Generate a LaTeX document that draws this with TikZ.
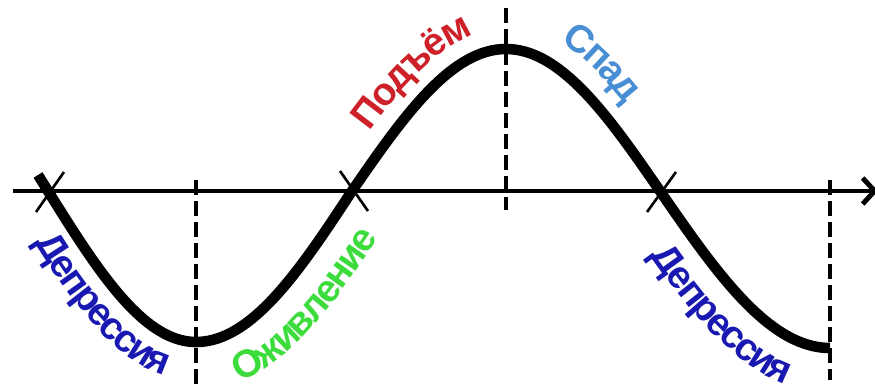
\documentclass[tikz,border=0pt]{standalone}
\usepackage{fontspec}
\setmainfont{Liberation Sans}
\usepackage{xcolor}
\usepackage{tikz}
\usetikzlibrary{arrows.meta,decorations.text}

\definecolor{depblue}{RGB}{25,25,178}
\definecolor{revgreen}{RGB}{60,220,60}
\definecolor{risered}{RGB}{205,32,40}
\definecolor{fallblue}{RGB}{72,142,212}

\begin{document}
\begin{tikzpicture}[
  declare function={
    wv(\x,\m,\q,\h)=1.95+(\h)*cos(90*((\x)-(\m))/(\q));
    ws(\x,\m,\q,\h)=(0-(\h))*pi/(2*(\q))*sin(90*((\x)-(\m))/(\q));
    wn(\x,\m,\q,\h)=sqrt(1+((\h)*pi/(2*(\q))*sin(90*((\x)-(\m))/(\q)))*((\h)*pi/(2*(\q))*sin(90*((\x)-(\m))/(\q))));
  },
  axisline/.style={line width=1.4pt},
  wave/.style={line width=3.0pt},
  guide/.style={line width=0.95pt, dash pattern=on 0.15cm off 0.06cm},
  crossline/.style={line width=0.75pt},
  phase/.style={decorate, decoration={text along path, text align=center, #1}}
]
\useasboundingbox (0,0) rectangle (8.75,3.86);

% axis
\coordinate (o) at (0.13,1.95);
\coordinate (e) at (8.78,1.95);
\draw[axisline, -{Straight Barb[length=1.2mm,width=2.6mm]}] (o) -- (e);

% turning points
\coordinate (low1top) at (1.96,2.06);
\coordinate (low1bot) at (1.96,0);
\coordinate (peaktop) at (5.06,3.78);
\coordinate (peakbot) at (5.06,1.76);
\coordinate (low2top) at (8.30,2.06);
\coordinate (low2bot) at (8.30,0.06);
\draw[guide] (low1top) -- (low1bot);
\draw[guide] (peaktop) -- (peakbot);
\draw[guide] (low2top) -- (low2bot);

% crossings
\coordinate (c1) at (0.48,1.95);
\coordinate (c2) at (3.52,1.95);
\coordinate (c3) at (6.60,1.95);
\draw[crossline] (c1) ++(-0.12,-0.21) -- ++(0.28,0.40);
\draw[crossline] (c2) ++(-0.12,0.20) -- ++(0.28,-0.40);
\draw[crossline] (c3) ++(0.16,0.19) -- ++(-0.29,-0.40);

% the cycle
\draw[wave] plot[domain=0.38:1.96, samples=40] ({\x},{wv(\x,1.96,1.48,-1.51)})
  -- plot[domain=1.96:3.52, samples=40] ({\x},{wv(\x,1.96,1.56,-1.51)})
  -- plot[domain=3.52:6.60, samples=80] ({\x},{wv(\x,5.06,1.54,1.42)})
  -- plot[domain=6.60:8.30, samples=40] ({\x},{wv(\x,8.30,1.70,-1.57)});

% phase names, set along lines parallel to the cycle
\path[phase={text={|\fontsize{11}{13}\selectfont\bfseries\color{depblue}\kern-0.6pt|Депрессия}}]
  plot[domain=0.58:1.88, samples=30]
  ({\x+0.39*ws(\x,1.96,1.48,-1.51)/wn(\x,1.96,1.48,-1.51)},{wv(\x,1.96,1.48,-1.51)-0.39/wn(\x,1.96,1.48,-1.51)});
\path[phase={text={|\fontsize{11}{13}\selectfont\bfseries\color{revgreen}\kern-0.6pt|Оживление}}]
  plot[domain=2.11:3.50, samples=30]
  ({\x+0.48*ws(\x,1.96,1.56,-1.51)/wn(\x,1.96,1.56,-1.51)},{wv(\x,1.96,1.56,-1.51)-0.48/wn(\x,1.96,1.56,-1.51)});
\path[phase={text={|\fontsize{11}{13}\selectfont\bfseries\color{risered}\kern-0.6pt|Подъём}}]
  plot[domain=3.80:4.90, samples=30]
  ({\x-0.20*ws(\x,5.06,1.54,1.42)/wn(\x,5.06,1.54,1.42)},{wv(\x,5.06,1.54,1.42)+0.20/wn(\x,5.06,1.54,1.42)});
\path[phase={text={|\fontsize{11}{13}\selectfont\bfseries\color{fallblue}\kern-0.6pt|Спад}}]
  plot[domain=5.37:6.18, samples=30]
  ({\x-0.23*ws(\x,5.06,1.54,1.42)/wn(\x,5.06,1.54,1.42)},{wv(\x,5.06,1.54,1.42)+0.23/wn(\x,5.06,1.54,1.42)});
\path[phase={text={|\fontsize{11}{13}\selectfont\bfseries\color{depblue}\kern-0.6pt|Депрессия}}]
  plot[domain=6.78:8.12, samples=30]
  ({\x+0.45*ws(\x,8.30,1.70,-1.57)/wn(\x,8.30,1.70,-1.57)},{wv(\x,8.30,1.70,-1.57)-0.45/wn(\x,8.30,1.70,-1.57)});

\end{tikzpicture}
\end{document}
